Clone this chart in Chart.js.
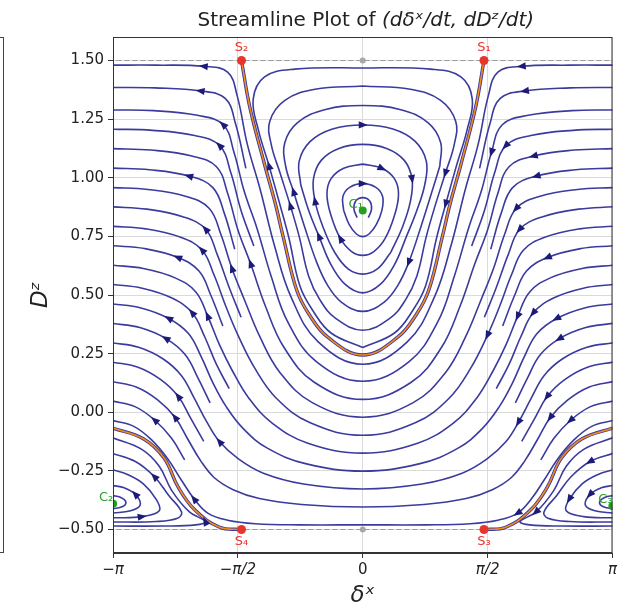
<!DOCTYPE html>
<html>
<head>
<meta charset="utf-8">
<script src="https://cdn.jsdelivr.net/npm/chart.js@4.4.1/dist/chart.umd.min.js"></script>
<style>
  html, body { margin: 0; padding: 0; background: #fff; }
  canvas { display: block; }
</style>
</head>
<body>
<canvas id="chart" width="620" height="609"></canvas>
<script>
// axis ticks
const xTicks = [-Math.PI, -Math.PI / 2, 0, Math.PI / 2, Math.PI];
const xTickLabels = ['−π', '−π/2', '0', 'π/2', 'π'];
const yTicks = [-0.5, -0.25, 0, 0.25, 0.5, 0.75, 1, 1.25, 1.5];
const boundaryD = [1.5, -0.5];

// fixed points
const saddlePts = [[1.525, 1.5], [-1.525, 1.5], [1.525, -0.5], [-1.525, -0.5]];
const saddleNames = ['S₁', 'S₂', 'S₃', 'S₄'];
const centrePts = [[0, 0.86], [-3.14, -0.39], [3.14, -0.4]];
const centreNames = ['C₁', 'C₂', 'C₃'];
const poleDots = [[0, 1.5], [0, -0.5]];

// separatrices (orange), points as [delta, D]
const sepU = [[1.525,1.5],[1.42,1.3],[1.24,1.063],[1.1,0.89],[1.0,0.747],[0.83,0.52],[0.68,0.42],[0.44,0.32],[0,0.244],[-0.44,0.32],[-0.68,0.42],[-0.83,0.52],[-1.0,0.747],[-1.1,0.89],[-1.24,1.063],[-1.42,1.3],[-1.525,1.5]];
const sepLowRight = [[3.15,-0.067],[2.76,-0.113],[2.5,-0.195],[2.32,-0.32],[2.11,-0.417],[1.8,-0.49],[1.525,-0.5]];
const sepLowLeft = [[-1.525,-0.5],[-1.8,-0.49],[-2.11,-0.417],[-2.32,-0.32],[-2.5,-0.195],[-2.76,-0.113],[-3.15,-0.067]];

// open streamlines, right edge -> left edge (flow direction)
const bowls = [
  [[3.15,-0.035],[2.88,-0.06],[2.65,-0.12],[2.45,-0.2],[2.28,-0.29],[2.12,-0.37],[1.95,-0.43],[1.7,-0.46],[1.35,-0.475],[0.8,-0.48],[0,-0.48],[-0.8,-0.48],[-1.35,-0.475],[-1.7,-0.46],[-1.95,-0.43],[-2.12,-0.37],[-2.28,-0.29],[-2.45,-0.2],[-2.65,-0.12],[-2.88,-0.06],[-3.15,-0.035]],
  [[3.15,0.131],[2.85,0.108],[2.58,0.053],[2.36,-0.022],[2.2,-0.115],[2.04,-0.206],[1.87,-0.278],[1.63,-0.33],[1.3,-0.368],[0.77,-0.393],[0,-0.404],[-0.77,-0.393],[-1.3,-0.368],[-1.63,-0.33],[-1.87,-0.278],[-2.04,-0.206],[-2.2,-0.115],[-2.36,-0.022],[-2.58,0.053],[-2.85,0.108],[-3.15,0.131]],
  [[3.15,0.296],[2.82,0.277],[2.51,0.227],[2.28,0.156],[2.12,0.06],[1.96,-0.042],[1.8,-0.126],[1.56,-0.2],[1.25,-0.26],[0.745,-0.306],[0,-0.327],[-0.745,-0.306],[-1.25,-0.26],[-1.56,-0.2],[-1.8,-0.126],[-1.96,-0.042],[-2.12,0.06],[-2.28,0.156],[-2.51,0.227],[-2.82,0.277],[-3.15,0.296]],
  [[3.15,0.462],[2.79,0.445],[2.44,0.4],[2.19,0.335],[2.03,0.235],[1.88,0.122],[1.72,0.025],[1.5,-0.071],[1.2,-0.153],[0.72,-0.219],[0,-0.251],[-0.72,-0.219],[-1.2,-0.153],[-1.5,-0.071],[-1.72,0.025],[-1.88,0.122],[-2.03,0.235],[-2.19,0.335],[-2.44,0.4],[-2.79,0.445],[-3.15,0.462]],
  [[3.15,0.627],[2.76,0.613],[2.36,0.573],[2.1,0.513],[1.95,0.41],[1.8,0.286],[1.64,0.177],[1.43,0.059],[1.14,-0.046],[0.69,-0.132],[0,-0.174],[-0.69,-0.132],[-1.14,-0.046],[-1.43,0.059],[-1.64,0.177],[-1.8,0.286],[-1.95,0.41],[-2.1,0.513],[-2.36,0.573],[-2.76,0.613],[-3.15,0.627]],
  [[3.15,0.793],[2.73,0.782],[2.29,0.746],[2.02,0.691],[1.87,0.585],[1.72,0.45],[1.57,0.329],[1.36,0.189],[1.09,0.061],[0.66,-0.045],[0,-0.098],[-0.66,-0.045],[-1.09,0.061],[-1.36,0.189],[-1.57,0.329],[-1.72,0.45],[-1.87,0.585],[-2.02,0.691],[-2.29,0.746],[-2.73,0.782],[-3.15,0.793]],
  [[3.15,0.958],[2.7,0.95],[2.22,0.92],[1.93,0.869],[1.785,0.759],[1.645,0.613],[1.49,0.481],[1.29,0.319],[1.04,0.169],[0.635,0.041],[0,-0.021],[-0.635,0.041],[-1.04,0.169],[-1.29,0.319],[-1.49,0.481],[-1.645,0.613],[-1.785,0.759],[-1.93,0.869],[-2.22,0.92],[-2.7,0.95],[-3.15,0.958]],
  [[3.15,1.124],[2.66,1.118],[2.15,1.093],[1.84,1.047],[1.7,0.934],[1.57,0.777],[1.41,0.633],[1.22,0.449],[0.99,0.276],[0.61,0.128],[0,0.055],[-0.61,0.128],[-0.99,0.276],[-1.22,0.449],[-1.41,0.633],[-1.57,0.777],[-1.7,0.934],[-1.84,1.047],[-2.15,1.093],[-2.66,1.118],[-3.15,1.124]],
  [[3.15,1.289],[2.63,1.286],[2.08,1.266],[1.755,1.226],[1.62,1.109],[1.49,0.941],[1.33,0.784],[1.15,0.578],[0.94,0.383],[0.58,0.215],[0,0.132],[-0.58,0.215],[-0.94,0.383],[-1.15,0.578],[-1.33,0.784],[-1.49,0.941],[-1.62,1.109],[-1.755,1.226],[-2.08,1.266],[-2.63,1.286],[-3.15,1.289]],
  [[3.15,1.48],[2.6,1.48],[2.0,1.475],[1.7,1.45],[1.58,1.35],[1.45,1.14],[1.29,0.95],[1.11,0.71],[0.9,0.49],[0.56,0.3],[0,0.205],[-0.56,0.3],[-0.9,0.49],[-1.11,0.71],[-1.29,0.95],[-1.45,1.14],[-1.58,1.35],[-1.7,1.45],[-2.0,1.475],[-2.6,1.48],[-3.15,1.48]]
];
const bowlArrows = [[6,15],[3,17],[5,14],[2,18],[4,16],[6,17],[3,15],[2,14],[4,17],[2,18]];

// short pieces entering from the right edge
const partsRight = [
  [[3.15,0.048],[2.865,0.024],[2.615,-0.034],[2.405,-0.111],[2.24,-0.203]],
  [[3.15,0.214],[2.835,0.193],[2.545,0.14],[2.32,0.067],[2.16,-0.028],[2.0,-0.124]],
  [[3.15,0.379],[2.805,0.361],[2.475,0.314],[2.235,0.246],[2.075,0.148],[1.92,0.04]],
  [[3.15,0.545],[2.775,0.529],[2.4,0.487],[2.145,0.424],[1.99,0.323],[1.84,0.204],[1.68,0.101]],
  [[3.15,0.71],[2.745,0.698],[2.325,0.66],[2.06,0.602],[1.91,0.498],[1.76,0.368]],
  [[3.15,0.876],[2.715,0.866],[2.255,0.833],[1.975,0.78],[1.83,0.672],[1.68,0.532],[1.53,0.405]],
  [[3.15,1.041],[2.68,1.034],[2.185,1.007],[1.885,0.958],[1.74,0.847],[1.61,0.695]],
  [[3.15,1.207],[2.645,1.202],[2.115,1.18],[1.8,1.137],[1.66,1.022],[1.53,0.859],[1.37,0.709]],
  [[3.15,1.385],[2.615,1.383],[2.04,1.37],[1.73,1.338],[1.6,1.23],[1.47,1.04]]
];
// short pieces leaving through the left edge
const partsLeft = [
  [[-2.24,-0.203],[-2.405,-0.111],[-2.615,-0.034],[-2.865,0.024],[-3.15,0.048]],
  [[-2.0,-0.124],[-2.16,-0.028],[-2.32,0.067],[-2.545,0.14],[-2.835,0.193],[-3.15,0.214]],
  [[-1.92,0.04],[-2.075,0.148],[-2.235,0.246],[-2.475,0.314],[-2.805,0.361],[-3.15,0.379]],
  [[-1.68,0.101],[-1.84,0.204],[-1.99,0.323],[-2.145,0.424],[-2.4,0.487],[-2.775,0.529],[-3.15,0.545]],
  [[-1.76,0.368],[-1.91,0.498],[-2.06,0.602],[-2.325,0.66],[-2.745,0.698],[-3.15,0.71]],
  [[-1.53,0.405],[-1.68,0.532],[-1.83,0.672],[-1.975,0.78],[-2.255,0.833],[-2.715,0.866],[-3.15,0.876]],
  [[-1.61,0.695],[-1.74,0.847],[-1.885,0.958],[-2.185,1.007],[-2.68,1.034],[-3.15,1.041]],
  [[-1.37,0.709],[-1.53,0.859],[-1.66,1.022],[-1.8,1.137],[-2.115,1.18],[-2.645,1.202],[-3.15,1.207]],
  [[-1.47,1.04],[-1.6,1.23],[-1.73,1.338],[-2.04,1.37],[-2.615,1.383],[-3.15,1.385]]
];
const partArrows = [2, 3, 2, 3, 2, 3, 2, 3, 2];

// closed orbits round the centre at (0, 0.86), clockwise
const rings = [
  [[0,0.276],[-0.399,0.338],[-0.627,0.433],[-0.789,0.537],[-0.931,0.746],[-1.045,0.889],[-1.178,1.05],[-1.311,1.202],[-1.378,1.335],[-1.235,1.43],[-0.855,1.463],[0,1.468],[0.855,1.463],[1.235,1.43],[1.378,1.335],[1.311,1.202],[1.178,1.05],[1.045,0.889],[0.931,0.746],[0.789,0.537],[0.627,0.433],[0.399,0.338],[0,0.276]],
  [[0,1.391],[0.6,1.377],[0.98,1.33],[1.17,1.24],[1.15,1.14],[1.04,1.02],[0.91,0.88],[0.8,0.75],[0.68,0.58],[0.54,0.48],[0.34,0.4],[0,0.35],[-0.34,0.4],[-0.54,0.48],[-0.68,0.58],[-0.8,0.75],[-0.91,0.88],[-1.04,1.02],[-1.15,1.14],[-1.17,1.24],[-0.98,1.33],[-0.6,1.377],[0,1.391]],
  [[0.97,1.05],[0.87,0.94],[0.74,0.8],[0.58,0.64],[0.44,0.54],[0.27,0.47],[0,0.43],[-0.27,0.47],[-0.44,0.54],[-0.58,0.64],[-0.74,0.8],[-0.87,0.94],[-0.97,1.05],[-0.98,1.15],[-0.82,1.235],[-0.48,1.29],[0,1.308],[0.48,1.29],[0.82,1.235],[0.98,1.15],[0.97,1.05]],
  [[-0.78,0.97],[-0.8,1.07],[-0.66,1.155],[-0.38,1.208],[0,1.225],[0.38,1.208],[0.66,1.155],[0.8,1.07],[0.78,0.97],[0.68,0.86],[0.55,0.75],[0.4,0.63],[0.22,0.545],[0,0.509],[-0.22,0.545],[-0.4,0.63],[-0.55,0.75],[-0.68,0.86],[-0.78,0.97]],
  [[0.35,0.68],[0.18,0.61],[0,0.589],[-0.18,0.61],[-0.35,0.68],[-0.5,0.79],[-0.6,0.9],[-0.62,0.995],[-0.52,1.075],[-0.3,1.125],[0,1.142],[0.3,1.125],[0.52,1.075],[0.62,0.995],[0.6,0.9],[0.5,0.79],[0.35,0.68]],
  [[0,1.058],[0.24,1.04],[0.4,0.995],[0.45,0.93],[0.4,0.84],[0.28,0.74],[0.14,0.685],[0,0.669],[-0.14,0.685],[-0.28,0.74],[-0.4,0.84],[-0.45,0.93],[-0.4,0.995],[-0.24,1.04],[0,1.058]],
  [[-0.24,0.86],[-0.25,0.92],[-0.16,0.96],[0,0.975],[0.16,0.96],[0.25,0.92],[0.24,0.86],[0.17,0.8],[0.08,0.76],[0,0.749],[-0.08,0.76],[-0.17,0.8],[-0.24,0.86]],
  [[-0.07,0.83],[-0.11,0.865],[-0.09,0.9],[0,0.915],[0.09,0.9],[0.11,0.865],[0.07,0.83]]
];
const ringArrows = [[6,17],[5,16],[3,11],[4,16],[6,13],[1,9],[3],[]];

// orbits round the corner centres at (+-pi, -0.39)
const cornersLeft = [
  [[-3.15,-0.485],[-2.5,-0.485],[-2.1,-0.48],[-1.98,-0.466],[-2.18,-0.425],[-2.4,-0.335],[-2.56,-0.23],[-2.78,-0.158],[-3.15,-0.108]],
  [[-3.15,-0.468],[-2.6,-0.466],[-2.33,-0.452],[-2.28,-0.425],[-2.44,-0.355],[-2.62,-0.275],[-2.86,-0.21],[-3.15,-0.175]],
  [[-3.15,-0.45],[-2.78,-0.445],[-2.56,-0.42],[-2.6,-0.37],[-2.76,-0.305],[-2.96,-0.265],[-3.15,-0.245]],
  [[-3.15,-0.43],[-2.92,-0.42],[-2.8,-0.395],[-2.86,-0.35],[-3.0,-0.322],[-3.15,-0.312]],
  [[-3.15,-0.412],[-3.02,-0.402],[-2.98,-0.382],[-3.05,-0.362],[-3.15,-0.355]]
];
const cornersRight = [
  [[3.15,-0.108],[2.78,-0.158],[2.56,-0.23],[2.4,-0.335],[2.18,-0.425],[1.98,-0.466],[2.1,-0.48],[2.5,-0.485],[3.15,-0.485]],
  [[3.15,-0.175],[2.86,-0.21],[2.62,-0.275],[2.44,-0.355],[2.28,-0.425],[2.33,-0.452],[2.6,-0.466],[3.15,-0.468]],
  [[3.15,-0.245],[2.96,-0.265],[2.76,-0.305],[2.6,-0.37],[2.56,-0.42],[2.78,-0.445],[3.15,-0.45]],
  [[3.15,-0.312],[3.0,-0.322],[2.86,-0.35],[2.8,-0.395],[2.92,-0.42],[3.15,-0.43]],
  [[3.15,-0.355],[3.05,-0.362],[2.98,-0.382],[3.02,-0.402],[3.15,-0.412]]
];
const cornerArrowsLeft = [[3],[5],[1],[3],[]];
const cornerArrowsRight = [[4],[1],[3],[2],[]];

const STREAM = '#3b3b9e';
const ARROW = '#1c1c78';
const ORANGE = '#f28a1e';
const FONT = "'DejaVu Sans', sans-serif";

function toXY(points) {
    return points.map(p => ({ x: p[0], y: p[1] }));
}

function lineSet(points, color, width, order, arrows) {
    return {
        data: toXY(points),
        showLine: true,
        borderColor: color,
        borderWidth: width,
        pointRadius: 0,
        pointHoverRadius: 0,
        tension: 0.4,
        fill: false,
        order: order,
        arrows: arrows || []
    };
}

function dotSet(points, color, radius, order) {
    return {
        data: toXY(points),
        showLine: false,
        pointRadius: radius,
        pointBackgroundColor: color,
        pointBorderColor: color,
        pointBorderWidth: 0,
        order: order
    };
}

const datasets = [];
// markers on top
datasets.push(dotSet(saddlePts, '#e8352b', 4.5, 0));
datasets.push(dotSet(centrePts, '#22a022', 4, 0));
datasets.push(dotSet(poleDots, '#a8a8a8', 3, 0));
// separatrices: blue underneath, orange on top
[sepU, sepLowRight, sepLowLeft].forEach(s => {
    datasets.push(lineSet(s, ORANGE, 1.6, 1));
    datasets.push(lineSet(s, STREAM, 3.4, 2));
});
bowls.forEach((b, i) => datasets.push(lineSet(b, STREAM, 1.6, 3, bowlArrows[i])));
partsRight.forEach((p, i) => datasets.push(lineSet(p, STREAM, 1.6, 3, [partArrows[i]])));
partsLeft.forEach((p, i) => datasets.push(lineSet(p, STREAM, 1.6, 3, [p.length - 1 - partArrows[i]])));
rings.forEach((r, i) => datasets.push(lineSet(r, STREAM, 1.6, 3, ringArrows[i])));
cornersLeft.forEach((c, i) => datasets.push(lineSet(c, STREAM, 1.6, 3, cornerArrowsLeft[i])));
cornersRight.forEach((c, i) => datasets.push(lineSet(c, STREAM, 1.6, 3, cornerArrowsRight[i])));
// dashed boundaries at D = 1.5 and D = -0.5
boundaryD.forEach(d => {
    const ds = lineSet([[-3.2, d], [3.2, d]], '#9c9c9c', 1.1, 4);
    ds.tension = 0;
    ds.borderDash = [5, 3];
    datasets.push(ds);
});

const streamPlugin = {
    id: 'stream',
    afterDatasetsDraw(chart) {
        const ctx = chart.ctx;
        const area = chart.chartArea;
        ctx.save();
        ctx.beginPath();
        ctx.rect(area.left, area.top, area.right - area.left, area.bottom - area.top);
        ctx.clip();
        chart.data.datasets.forEach((ds, di) => {
            if (!ds.arrows || !ds.arrows.length) return;
            const pts = chart.getDatasetMeta(di).data;
            ds.arrows.forEach(i => {
                const a = pts[Math.max(i - 1, 0)];
                const b = pts[i];
                const c = pts[Math.min(i + 1, pts.length - 1)];
                const ang = Math.atan2(c.y - a.y, c.x - a.x);
                ctx.save();
                ctx.translate(b.x, b.y);
                ctx.rotate(ang);
                ctx.beginPath();
                ctx.moveTo(5, 0);
                ctx.lineTo(-4, -3.6);
                ctx.lineTo(-4, 3.6);
                ctx.closePath();
                ctx.fillStyle = ARROW;
                ctx.fill();
                ctx.restore();
            });
        });
        ctx.restore();
    },
    afterDraw(chart) {
        const ctx = chart.ctx;
        const area = chart.chartArea;
        const xs = chart.scales.x;
        const ys = chart.scales.y;
        ctx.save();

        // frame
        ctx.strokeStyle = '#333';
        ctx.lineWidth = 1;
        ctx.strokeRect(area.left + 0.5, area.top + 0.5, area.right - area.left - 1, area.bottom - area.top - 1);

        // edge of the neighbouring panel
        ctx.strokeStyle = '#444';
        ctx.strokeRect(-10, area.top + 0.5, 13.5, area.bottom - area.top - 1);

        // point labels
        ctx.font = '13px ' + FONT;
        ctx.textAlign = 'center';
        ctx.textBaseline = 'middle';
        ctx.fillStyle = '#e8352b';
        saddlePts.forEach((p, i) => {
            const px = xs.getPixelForValue(p[0]);
            const py = ys.getPixelForValue(p[1]);
            ctx.fillText(saddleNames[i], px, py + (p[1] > 0 ? -13 : 12));
        });
        ctx.fillStyle = '#2ca02c';
        centrePts.forEach((p, i) => {
            const px = xs.getPixelForValue(p[0]);
            const py = ys.getPixelForValue(p[1]);
            ctx.fillText(centreNames[i], px - 7, py - 6);
        });

        // title
        ctx.fillStyle = '#222';
        ctx.textBaseline = 'alphabetic';
        ctx.textAlign = 'left';
        const part1 = 'Streamline Plot of ';
        const part2 = '(dδˣ/dt, dDᶻ/dt)';
        ctx.font = '20px ' + FONT;
        const w1 = ctx.measureText(part1).width;
        ctx.font = 'italic 20px ' + FONT;
        const w2 = ctx.measureText(part2).width;
        const cx = (area.left + area.right) / 2;
        const tx = cx + 3 - (w1 + w2) / 2;
        ctx.font = '20px ' + FONT;
        ctx.fillText(part1, tx, 26);
        ctx.font = 'italic 20px ' + FONT;
        ctx.fillText(part2, tx + w1, 26);

        // axis titles
        ctx.textAlign = 'center';
        ctx.font = 'italic 23px ' + FONT;
        ctx.fillText('δˣ', cx, 602);
        ctx.save();
        ctx.translate(47, (area.top + area.bottom) / 2);
        ctx.rotate(-Math.PI / 2);
        ctx.fillText('Dᶻ', 0, 0);
        ctx.restore();

        ctx.restore();
    }
};

const ctx = document.getElementById('chart').getContext('2d');
new Chart(ctx, {
    type: 'scatter',
    data: { datasets: datasets },
    options: {
        responsive: false,
        animation: false,
        devicePixelRatio: 1,
        layout: { padding: { top: 37, right: 6, left: 0, bottom: 0 } },
        plugins: {
            legend: { display: false },
            tooltip: { enabled: false },
            title: { display: false }
        },
        scales: {
            x: {
                type: 'linear',
                min: -Math.PI,
                max: Math.PI,
                afterBuildTicks: axis => { axis.ticks = xTicks.map(v => ({ value: v })); },
                afterFit: scale => { scale.height = 56; },
                ticks: {
                    autoSkip: false,
                    maxRotation: 0,
                    padding: 3,
                    color: '#222',
                    font: c => ({ family: FONT, size: 15, style: (c.tick && c.tick.value !== 0) ? 'italic' : 'normal' }),
                    callback: (value, index) => xTickLabels[index]
                },
                grid: { color: '#dadada', lineWidth: 1, tickLength: 5, tickColor: '#333' },
                border: { display: true, color: '#333' }
            },
            y: {
                type: 'linear',
                min: -0.6,
                max: 1.6,
                afterBuildTicks: axis => { axis.ticks = yTicks.map(v => ({ value: v })); },
                afterFit: scale => { scale.width = 113; },
                ticks: {
                    padding: 4,
                    color: '#222',
                    font: { family: FONT, size: 15 },
                    callback: value => (value < 0 ? '−' + Math.abs(value).toFixed(2) : value.toFixed(2))
                },
                grid: { color: '#dadada', lineWidth: 1, tickLength: 5, tickColor: '#333' },
                border: { display: true, color: '#333' }
            }
        }
    },
    plugins: [streamPlugin]
});
</script>
</body>
</html>
